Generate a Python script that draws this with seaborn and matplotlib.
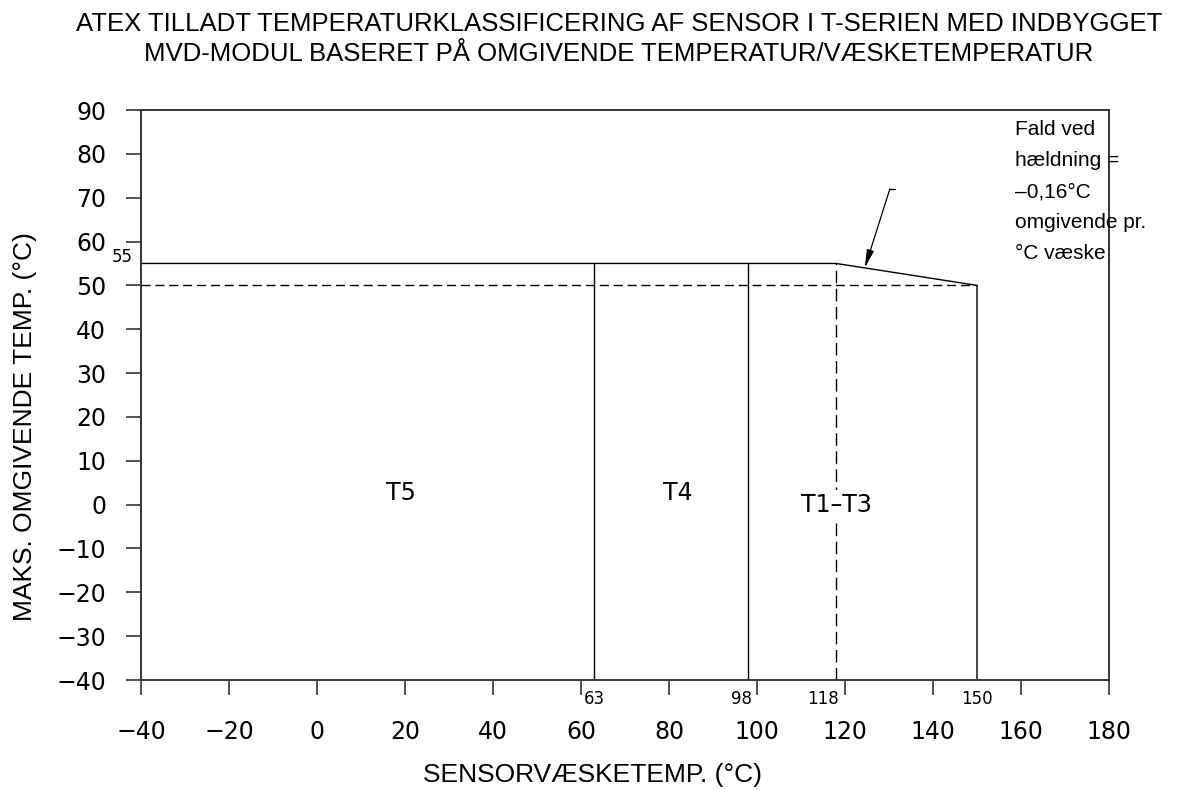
import matplotlib
matplotlib.use('Agg')
import matplotlib.pyplot as plt
import seaborn as sns
import pandas as pd

# akser
x_ticks = list(range(-40, 181, 20))
y_ticks = list(range(-40, 91, 10))

# grænser mellem temperaturklasser (sensorvæsketemp.)
class_bounds = [63, 98]
derate_start = 118
fluid_max = 150
ambient_max = 55
ambient_derated = 50

# ydre kurve: maks. omgivende temp. som funktion af væsketemp.
env_x = [-40, derate_start, fluid_max, fluid_max]
env_y = [ambient_max, ambient_max, ambient_derated, -40]

class_labels = ['T5', 'T4', 'T1\u2013T3']
class_label_x = [19.0, 82.0, 118.0]
class_label_y = [2.7, 2.7, 0.0]

value_labels = ['63', '98', '118', '150']
value_label_x = [63, 96.5, 115, 150]

title = ('ATEX TILLADT TEMPERATURKLASSIFICERING AF SENSOR I T-SERIEN MED INDBYGGET\n'
         'MVD-MODUL BASERET PÅ OMGIVENDE TEMPERATUR/VÆSKETEMPERATUR')
note = 'Fald ved\nhældning =\n\u20130,16°C\nomgivende pr.\n°C væske'

sns.set_theme(style='white')
plt.rcParams['font.family'] = ['DejaVu Sans']
plt.rcParams['text.color'] = 'black'
plt.rcParams['axes.labelcolor'] = 'black'

fig = plt.figure(figsize=(12.01, 7.90), dpi=100)
ax = fig.add_axes([141 / 1201, 110 / 790, 968 / 1201, 570 / 790])

line_kw = dict(color='black', linewidth=1.0)

# ydre kurve
env = pd.DataFrame({'x': env_x, 'y': env_y})
sns.lineplot(data=env, x='x', y='y', sort=False, estimator=None, errorbar=None,
             ax=ax, **line_kw)

# klassegrænser
ax.vlines(class_bounds, -40, ambient_max, **line_kw)
ax.vlines(derate_start, -40, ambient_max, linestyles=(0, (9, 4)), **line_kw)
ax.hlines(ambient_derated, -40, fluid_max, linestyles=(0, (6.5, 3.5)), **line_kw)

ax.set_xlim(-40, 180)
ax.set_ylim(-40, 90)
ax.set_xticks(x_ticks)
ax.set_yticks(y_ticks)

for s in ax.spines.values():
    s.set_visible(True)
    s.set_color('#333333')
    s.set_linewidth(1.4)

ax.tick_params(axis='both', direction='out', length=11, width=1.1, color='#222222',
               labelsize=17, labelcolor='black', bottom=True, left=True)
ax.tick_params(axis='x', pad=18)
ax.tick_params(axis='y', pad=14)

ax.set_xlabel('SENSORVÆSKETEMP. (°C)', fontsize=19,
              family=['Liberation Sans', 'DejaVu Sans'])
ax.set_ylabel('MAKS. OMGIVENDE TEMP. (°C)', fontsize=19,
              family=['Liberation Sans', 'DejaVu Sans'])
ax.xaxis.set_label_coords(0.466, -0.145)
ax.yaxis.set_label_coords(-0.107, 0.444)

# klassetekster
for lab, lx, ly in zip(class_labels, class_label_x, class_label_y):
    ax.text(lx, ly, lab, fontsize=17, ha='center', va='center',
            bbox=dict(facecolor='white', edgecolor='none', pad=1.5))

# små værdier
for lab, lx in zip(value_labels, value_label_x):
    ax.text(lx, -44.3, lab, fontsize=12, ha='center', va='center', clip_on=False)
ax.text(-41.8, 56.5, str(ambient_max), fontsize=12, ha='right', va='center',
        clip_on=False)

# note med pil
ax.text(158.6, 87.7, note, fontsize=15, ha='left', va='top', linespacing=1.80,
        family=['Liberation Sans', 'DejaVu Sans'])
ax.plot([130.2, 131.4], [72.0, 72.0], **line_kw)
ax.annotate('', xy=(124.5, 54.0), xytext=(130.2, 72.0),
            arrowprops=dict(arrowstyle='-|>,head_length=0.9,head_width=0.18',
                            color='black', lw=0.9, facecolor='white',
                            shrinkA=0, shrinkB=0))

fig.text(0.5155, 1 - 12 / 790, title, fontsize=18.5, ha='center', va='top',
         linespacing=1.3, family=['Liberation Sans', 'DejaVu Sans'])

fig.savefig('out.png', dpi=100, facecolor='white')
